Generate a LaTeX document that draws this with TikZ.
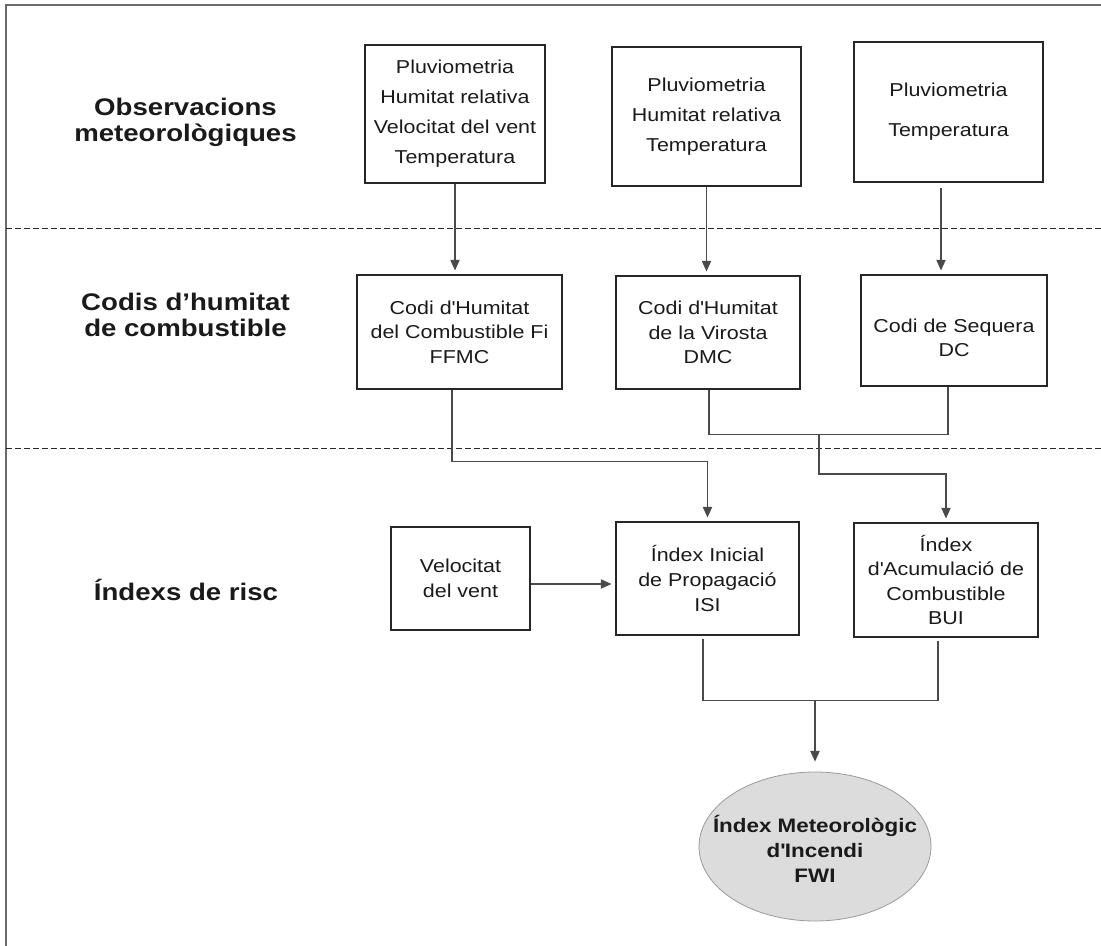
\documentclass[tikz,border=0pt]{standalone}
\usepackage{fontspec}
\setmainfont[FakeStretch=1.15]{Liberation Sans}
\usetikzlibrary{arrows.meta,shapes.geometric,calc}
\definecolor{boxc}{HTML}{262626}
\definecolor{linec}{HTML}{4A4A4A}
\definecolor{framec}{HTML}{6A6A6A}
\definecolor{ellf}{HTML}{DCDCDC}
\definecolor{ellc}{HTML}{9A9A9A}
\definecolor{txt}{HTML}{1A1A1A}
\begin{document}
\begin{tikzpicture}[x=0.75pt,y=-0.75pt,
  every node/.style={text=txt},
  box/.style={draw=boxc, line width=0.8pt, align=center, inner sep=0pt},
  fsA/.style={font=\fontsize{14}{22.5}\selectfont},
  fsB/.style={font=\fontsize{14}{18.4}\selectfont},
  rowlabel/.style={align=center, font=\bfseries\fontsize{18}{19.5}\selectfont},
  conn/.style={draw=linec, line width=0.8pt},
  arr/.style={conn, -{Triangle[length=8pt,width=7pt]}, shorten >=3pt},
  sep/.style={draw=boxc, line width=0.6pt, dash pattern=on 4.5pt off 2.25pt},
  frame/.style={draw=framec, line width=1.1pt}
]
\useasboundingbox (0,0) rectangle (1101,946);
% frame
\draw[frame] (1101,5) -- (6,5) -- (6,946);
% separators
\draw[sep] (6,228) -- (1101,228);
\draw[sep] (6,448) -- (1101,448);
% row labels
\node[rowlabel] (lab1) at (185.5,122) {Observacions\\meteorològiques};
\node[rowlabel] (lab2) at (185.5,315) {Codis d’humitat\\de combustible};
\node[rowlabel] (lab3) at (186,590) {Índexs de risc};
% row 1
\node[box, fsA, minimum width=135pt, minimum height=103.5pt] (obs1) at (455,114)
  {Pluviometria\\Humitat relativa\\Velocitat del vent\\Temperatura};
\node[box, fsA, minimum width=141.75pt, minimum height=104.25pt] (obs2) at (706.5,116.5)
  {Pluviometria\\Humitat relativa\\Temperatura};
\node[box, font=\fontsize{14}{30}\selectfont, minimum width=141.75pt, minimum height=105pt] (obs3) at (948.5,112)
  {Pluviometria\\Temperatura};
% row 2
\node[box, fsB, minimum width=153.75pt, minimum height=85.5pt] (ffmc) at (459.5,332)
  {Codi d\textquotesingle Humitat\\del Combustible Fi\\FFMC};
\node[box, fsB, minimum width=138pt, minimum height=84.75pt] (dmc) at (708,332.5)
  {Codi d\textquotesingle Humitat\\de la Virosta\\DMC};
\node[box, minimum width=139.5pt, minimum height=83.25pt] (dc) at (954,330.5) {};
\node[fsB, align=center] (dct) at (954,338) {Codi de Sequera\\DC};
% row 3
\node[box, fsB, minimum width=104.25pt, minimum height=77.25pt] (vel) at (460.5,578.5)
  {Velocitat\\del vent};
\node[box, fsB, minimum width=137.25pt, minimum height=84.75pt] (isi) at (707.5,578.5)
  {Índex Inicial\\de Propagació\\ISI};
\node[box, fsB, minimum width=138pt, minimum height=85.5pt] (bui) at (946,580)
  {Índex\\d\textquotesingle Acumulació de\\Combustible\\BUI};
% result
\node[ellipse, draw=ellc, fill=ellf, line width=0.6pt, minimum width=174pt, minimum height=111.75pt,
  inner sep=0pt] (fwi) at (815,846.5) {};
\node[align=center, inner sep=0pt, font=\bfseries\fontsize{14.6}{18.75}\selectfont] (fwit) at (815,849)
  {Índex Meteorològic\\d\textquotesingle Incendi\\FWI};
% connectors row 1 -> row 2
\draw[arr] (obs1.south) -- (obs1.south |- ffmc.north);
\draw[arr] (obs2.south) -- (obs2.south |- dmc.north);
\coordinate (o3) at ($(obs3.south)+(-7.5,5)$);
\draw[arr] (o3) -- (o3 |- dc.north);
% row 2 -> row 3
\draw[arr] ($(ffmc.south)+(-7.5,0)$) -- ++(0,72) -| (isi.north);
\draw[conn] ($(dmc.south)+(1,0)$) -- ++(0,45) -| ($(dc.south)+(-6,0)$);
\coordinate (j) at (819,434);
\draw[arr] (j) -- ++(0,40) -| (bui.north);
\draw[arr] ($(vel.east)+(0,5.5)$) -- ($(isi.west)+(0,5.5)$);
% row 3 -> result
\draw[conn] ($(isi.south)+(-4.5,3)$) -- ++(0,62) -| ($(bui.south)+(-8,3)$);
\coordinate (m) at (815,700);
\draw[arr, shorten >=7.5pt] (m) -- (fwi.north);
\end{tikzpicture}
\end{document}
